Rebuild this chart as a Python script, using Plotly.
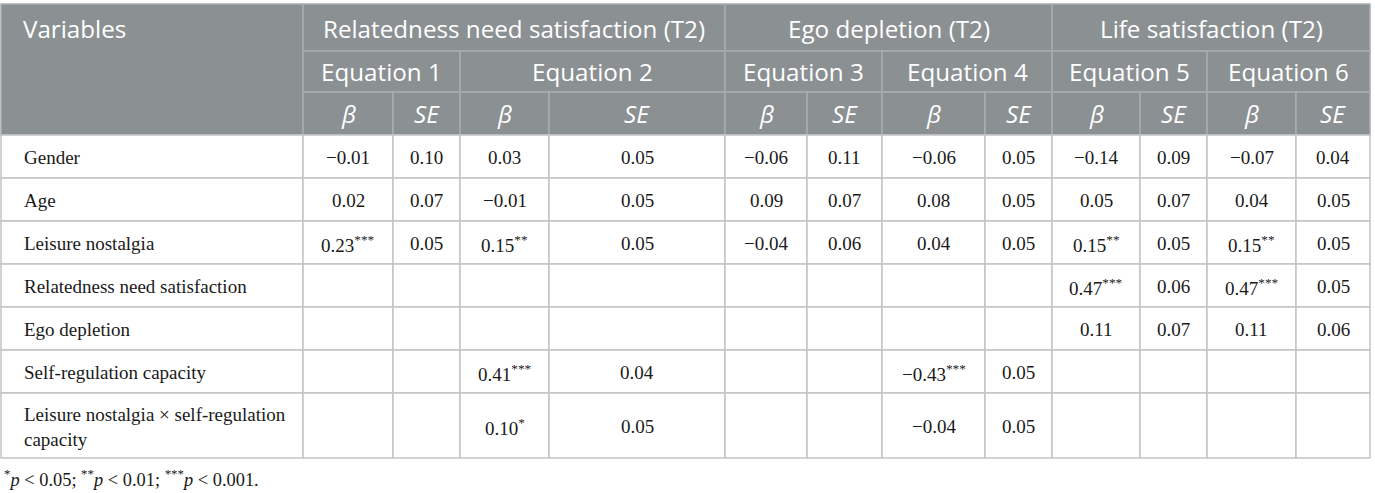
import plotly.graph_objects as go

# table content
outcomes = ["Relatedness need satisfaction (T2)", "Ego depletion (T2)", "Life satisfaction (T2)"]
equations = ["Equation 1", "Equation 2", "Equation 3", "Equation 4", "Equation 5", "Equation 6"]
stat_labels = ["<i>β</i>", "<i>SE</i>"]
variables = [
    "Gender",
    "Age",
    "Leisure nostalgia",
    "Relatedness need satisfaction",
    "Ego depletion",
    "Self-regulation capacity",
    "Leisure nostalgia × self-regulation<br>capacity",
]

# beta / SE per equation, None = empty cell
eq1_beta = [-0.01, 0.02, 0.23, None, None, None, None]
eq1_se = [0.10, 0.07, 0.05, None, None, None, None]
eq2_beta = [0.03, -0.01, 0.15, None, None, 0.41, 0.10]
eq2_se = [0.05, 0.05, 0.05, None, None, 0.04, 0.05]
eq3_beta = [-0.06, 0.09, -0.04, None, None, None, None]
eq3_se = [0.11, 0.07, 0.06, None, None, None, None]
eq4_beta = [-0.06, 0.08, 0.04, None, None, -0.43, -0.04]
eq4_se = [0.05, 0.05, 0.05, None, None, 0.05, 0.05]
eq5_beta = [-0.14, 0.05, 0.15, 0.47, 0.11, None, None]
eq5_se = [0.09, 0.07, 0.05, 0.06, 0.07, None, None]
eq6_beta = [-0.07, 0.04, 0.15, 0.47, 0.11, None, None]
eq6_se = [0.04, 0.05, 0.05, 0.05, 0.06, None, None]

# significance stars for the betas
eq1_stars = ["", "", "***", "", "", "", ""]
eq2_stars = ["", "", "**", "", "", "***", "*"]
eq3_stars = ["", "", "", "", "", "", ""]
eq4_stars = ["", "", "", "", "", "***", ""]
eq5_stars = ["", "", "**", "***", "", "", ""]
eq6_stars = ["", "", "**", "***", "", "", ""]

footnote = ("<sup>*</sup><i>p</i> &lt; 0.05; <sup>**</sup><i>p</i> &lt; 0.01; "
            "<sup>***</sup><i>p</i> &lt; 0.001.")

# layout (pixels)
W, H = 1375, 493
col_edges = [1, 303, 393, 460, 549, 725, 807, 882, 985, 1052, 1140, 1207, 1296, 1370]
head_edges = [4, 51, 92, 135]
row_edges = [135, 178, 221, 264, 307, 350, 393, 458]

HEAD_BG = "#8b9093"
HEAD_LINE = "#a9adb0"
BODY_LINE = "#c3c3c3"
HEAD_FONT = dict(family="Open Sans", size=24.2, color="white")
BODY_FONT = dict(family="Liberation Serif", size=19, color="#1a1a1a")


def fmt(v):
    if v is None:
        return ""
    s = "%.2f" % abs(v)
    return ("−" + s) if v < 0 else s


shapes = []
annotations = []


def cell(x0, x1, y0, y1, fill, line):
    shapes.append(dict(type="rect", xref="x", yref="y", x0=x0, x1=x1, y0=y0, y1=y1,
                       fillcolor=fill, line=dict(color=line, width=1.5), layer="below"))


def label(x, y, text, font, anchor="center"):
    annotations.append(dict(x=x, y=y, xref="x", yref="y", text=text, showarrow=False,
                            xanchor=anchor, yanchor="middle", font=font, align="left"))


# header
cell(col_edges[0], col_edges[1], head_edges[0], head_edges[3], HEAD_BG, HEAD_LINE)
label(col_edges[0] + 20, (head_edges[0] + head_edges[1]) / 2 + 1, "Variables", HEAD_FONT, "left")

for i, name in enumerate(outcomes):
    x0, x1 = col_edges[1 + 4 * i], col_edges[5 + 4 * i]
    cell(x0, x1, head_edges[0], head_edges[1], HEAD_BG, HEAD_LINE)
    label((x0 + x1) / 2, (head_edges[0] + head_edges[1]) / 2 + 1, name, HEAD_FONT)

for i, name in enumerate(equations):
    x0, x1 = col_edges[1 + 2 * i], col_edges[3 + 2 * i]
    cell(x0, x1, head_edges[1], head_edges[2], HEAD_BG, HEAD_LINE)
    label((x0 + x1) / 2, (head_edges[1] + head_edges[2]) / 2, name, HEAD_FONT)

for j in range(12):
    x0, x1 = col_edges[1 + j], col_edges[2 + j]
    cell(x0, x1, head_edges[2], head_edges[3], HEAD_BG, HEAD_LINE)
    label((x0 + x1) / 2, (head_edges[2] + head_edges[3]) / 2, stat_labels[j % 2], HEAD_FONT)

# body
betas = [eq1_beta, eq2_beta, eq3_beta, eq4_beta, eq5_beta, eq6_beta]
ses = [eq1_se, eq2_se, eq3_se, eq4_se, eq5_se, eq6_se]
stars = [eq1_stars, eq2_stars, eq3_stars, eq4_stars, eq5_stars, eq6_stars]

for r, var in enumerate(variables):
    y0, y1 = row_edges[r], row_edges[r + 1]
    ym = (y0 + y1) / 2 + 1
    cell(col_edges[0], col_edges[1], y0, y1, "white", BODY_LINE)
    label(col_edges[0] + 21, ym, var, BODY_FONT, "left")
    for e in range(6):
        for k, vals in enumerate([betas[e], ses[e]]):
            x0, x1 = col_edges[1 + 2 * e + k], col_edges[2 + 2 * e + k]
            cell(x0, x1, y0, y1, "white", BODY_LINE)
            v = vals[r]
            if v is None:
                continue
            txt = fmt(v)
            if k == 0 and stars[e][r]:
                txt += "<sup>" + stars[e][r] + "</sup>"
            label((x0 + x1) / 2, ym, txt, BODY_FONT)

annotations.append(dict(x=col_edges[0] + 1, y=478, xref="x", yref="y", text=footnote,
                        showarrow=False, xanchor="left", yanchor="middle",
                        font=dict(family="Liberation Serif", size=18.4, color="#1a1a1a")))

fig = go.Figure()
fig.update_layout(
    width=W,
    height=H,
    margin=dict(l=0, r=0, t=0, b=0),
    paper_bgcolor="white",
    plot_bgcolor="white",
    xaxis=dict(range=[0, W], visible=False, fixedrange=True),
    yaxis=dict(range=[H, 0], visible=False, fixedrange=True),
    shapes=shapes,
    annotations=annotations,
    showlegend=False,
)
fig.write_html("out.html", config={"displayModeBar": False},
               post_script="document.body.style.margin='0';document.body.style.overflow='hidden';")
